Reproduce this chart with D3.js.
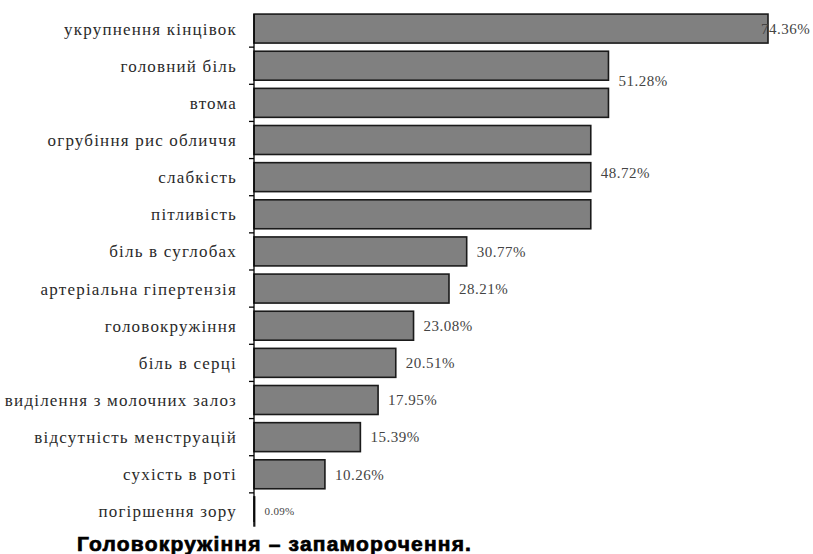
<!DOCTYPE html>
<html>
<head>
<meta charset="utf-8">
<script src="https://cdn.jsdelivr.net/npm/d3@7"></script>
<style>
  html, body { margin: 0; padding: 0; background: #fff; }
  svg { display: block; }
</style>
</head>
<body>
<svg id="chart" width="813" height="554"></svg>
<script>
const categories = [
  "укрупнення кінцівок",
  "головний біль",
  "втома",
  "огрубіння рис обличчя",
  "слабкість",
  "пітливість",
  "біль в суглобах",
  "артеріальна гіпертензія",
  "головокружіння",
  "біль в серці",
  "виділення з молочних залоз",
  "відсутність менструацій",
  "сухість в роті",
  "погіршення зору"
];
const values = [74.36, 51.28, 51.28, 48.72, 48.72, 48.72, 30.77, 28.21, 23.08, 20.51, 17.95, 15.39, 10.26, 0.09];
const valueLabels = ["74.36%", "51.28%", "51.28%", "48.72%", "48.72%", "48.72%", "30.77%", "28.21%", "23.08%", "20.51%", "17.95%", "15.39%", "10.26%", "0.09%"];
const footnote = "Головокружіння – запаморочення.";

const W = 813, H = 554;
const svg = d3.select("#chart");

const y = d3.scaleBand()
  .domain(categories)
  .range([10, 530])
  .paddingInner(0.22)
  .paddingOuter(0.11);

const x = d3.scaleLinear()
  .domain([0, d3.max(values)])
  .range([254, 768]);

const data = categories.map((c, i) => ({ c, v: values[i], label: valueLabels[i], i }));

svg.append("g").selectAll("rect")
  .data(data)
  .join("rect")
  .attr("x", x(0))
  .attr("y", d => y(d.c))
  .attr("width", d => Math.max(0, x(d.v) - x(0)))
  .attr("height", y.bandwidth())
  .attr("fill", "#808080")
  .attr("stroke", "#1a1a1a")
  .attr("stroke-width", 1.6);

const axisG = svg.append("g");
axisG.append("line")
  .attr("x1", x(0)).attr("x2", x(0))
  .attr("y1", y(categories[0]))
  .attr("y2", y.range()[1] - 8)
  .attr("stroke", "#000").attr("stroke-width", 1.3);
const step = y.step();
const boundaries = categories.slice(1).map(c => y(c) - (step - y.bandwidth()) / 2);
axisG.selectAll("line.tick")
  .data(boundaries)
  .join("line")
  .attr("class", "tick")
  .attr("x1", x(0) - 5).attr("x2", x(0))
  .attr("y1", d => d).attr("y2", d => d)
  .attr("stroke", "#000").attr("stroke-width", 1.3);

svg.append("g").selectAll("text")
  .data(data)
  .join("text")
  .attr("x", x(0) - 17)
  .attr("y", d => y(d.c) + y.bandwidth() / 2)
  .attr("dy", "0.35em")
  .attr("text-anchor", "end")
  .style("font-family", "'Liberation Serif', 'DejaVu Serif', serif")
  .attr("font-size", 17)
  .attr("letter-spacing", 1.2)
  .attr("fill", "#2a2a2a")
  .text(d => d.c);

const groups = [];
data.forEach(d => {
  const last = groups[groups.length - 1];
  if (last && last.v === d.v) last.items.push(d);
  else groups.push({ v: d.v, label: d.label, items: [d] });
});
svg.append("g").selectAll("text")
  .data(groups)
  .join("text")
  .attr("x", g => Math.min(x(g.v) + 10, W - 52))
  .attr("y", g => d3.mean(g.items, d => y(d.c) + y.bandwidth() / 2) - (g.items.length > 1 ? 4 : 0))
  .attr("dy", "0.35em")
  .style("font-family", "'Liberation Serif', serif")
  .attr("font-size", g => g.v < 1 ? 11 : 15)
  .attr("letter-spacing", g => g.v < 1 ? 0.3 : 0.5)
  .attr("fill", "#444")
  .text(g => g.label);

svg.append("text")
  .attr("x", 77)
  .attr("y", 551)
  .style("font-family", "'Liberation Sans', Arial, sans-serif")
  .attr("font-weight", "bold")
  .attr("font-size", 21)
  .attr("letter-spacing", 1.2)
  .attr("stroke", "#000")
  .attr("stroke-width", 0.7)
  .attr("fill", "#000")
  .text(footnote);
</script>
</body>
</html>
